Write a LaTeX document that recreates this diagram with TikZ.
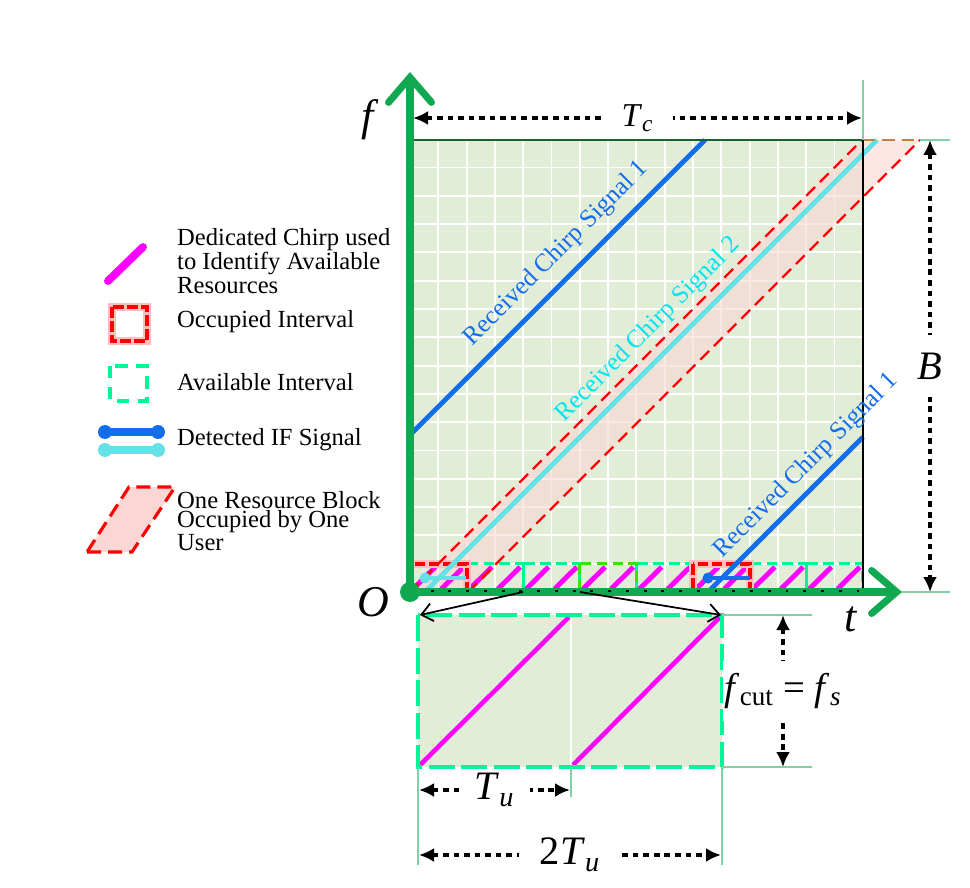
\documentclass[tikz,border=0pt]{standalone}
\usepackage{fontspec}
\setmainfont{Liberation Serif}
\usetikzlibrary{arrows.meta}

\definecolor{gridbg}{RGB}{226,237,216}
\definecolor{axisgreen}{RGB}{16,168,80}
\definecolor{mint}{RGB}{0,245,150}
\definecolor{limegreen}{RGB}{60,225,0}
\definecolor{chirpblue}{RGB}{20,110,235}
\definecolor{chirpcyan}{RGB}{100,225,230}
\definecolor{labelcyan}{RGB}{0,228,238}
\definecolor{extgreen}{RGB}{128,210,165}
\definecolor{topgreen}{RGB}{20,100,50}
\definecolor{blockpink}{RGB}{250,215,212}
\definecolor{chirpmag}{RGB}{255,0,255}

\tikzset{
  axisline/.style={axisgreen, line width=4pt,
    -{Straight Barb[length=5mm,width=8.6mm,line cap=round]}},
  dimline/.style={black, line width=1.8pt, dash pattern=on 3.2pt off 2.8pt,
    {Latex[length=3mm,width=2.8mm]}-{Latex[length=3mm,width=2.8mm]}},
  dimlabel/.style={fill=white, inner sep=1pt},
  extline/.style={extgreen, line width=1.3pt},
  chirp/.style={line width=2.8pt},
  occupied/.style={red, line width=1.8pt, dash pattern=on 6pt off 2pt},
  avail/.style={mint, line width=1.6pt, dash pattern=on 6pt off 3pt},
  legendtext/.style={font=\fontsize{14}{11}\selectfont, align=left, anchor=west},
  chirplabel/.style={font=\fontsize{14.5}{16}\selectfont, rotate=45},
  biglabel/.style={font=\fontsize{25}{28}\selectfont\itshape},
}

\begin{document}
\begin{tikzpicture}[x=0.02cm, y=-0.02cm, >=Latex]
\useasboundingbox (0,0) rectangle (970,888);

% time-frequency plane with grid
\fill[gridbg] (410,140) rectangle (863,592);
\foreach \k in {1,...,15} {
  \draw[white, line width=1.1pt] ({410+\k*28.3},140) -- ({410+\k*28.3},592);
  \draw[white, line width=1.1pt] (410,{592-\k*28.3}) -- (863,{592-\k*28.3});
}

% resource block occupied by one user
\fill[blockpink, fill opacity=0.6] (410,592) -- (468,592) -- (920,140) -- (862,140) -- cycle;

% dedicated chirps and intervals
\foreach \k in {0,...,15}
  \draw[chirpmag, line width=2.8pt] ({413+\k*28.3},589) -- ({407+(\k+1)*28.3},567);
\foreach \i in {0,...,7}
  \draw[avail] ({410+\i*56.6},563.7) rectangle ({410+(\i+1)*56.6},592);
\draw[avail, limegreen] (579.8,563.7) rectangle (636.4,592);
\foreach \x in {410,693} {
  \draw[red!25, line width=4pt] (\x,564) rectangle ++(57,28);
  \draw[occupied] (\x,564) rectangle ++(57,28);
}

% borders of the block
\draw[red, line width=1.3pt, dash pattern=on 7pt off 4pt] (410,592) -- (862,140);
\draw[red, line width=1.3pt, dash pattern=on 7pt off 4pt] (468,592) -- (920,140);

% received chirps
\draw[chirp, chirpcyan] (425,592) -- (877,140);
\draw[chirp, chirpblue] (410,435) -- (705,140);
\draw[chirp, chirpblue] (708,592) -- (863,437);

% detected IF signals
\draw[chirp, chirpcyan] (425,578) -- (466,578);
\fill[chirpcyan] (425,578) circle (0.11cm);
\draw[chirp, chirpblue] (708,578) -- (750,578);
\fill[chirpblue] (708,578) circle (0.11cm);

% frame
\draw[topgreen, line width=1.5pt] (410,140) -- (863,140);
\draw[brown, line width=1.5pt, dash pattern=on 7pt off 4pt] (863,140) -- (920,140);
\draw[black, line width=1.1pt] (863,140) -- (863,592);
\draw[extline] (920,140) -- (950,140);
\draw[extline] (863,140) -- (863,80);
\draw[extline] (900,592) -- (950,592);

% axes
\draw[axisline] (410,592) -- (410,72);
\draw[axisline] (410,592) -- (902,592);
\draw[black, line width=1.6pt, dash pattern=on 1.6pt off 8.5pt] (413,591) -- (863,591);
\fill[axisgreen] (410,592) circle (0.2cm);

\node[biglabel] (fLabel) at (368,120) {f};
\node[biglabel] (oLabel) at (373,602) {O};
\node[biglabel] (tLabel) at (851,619) {t};

\node[chirplabel, chirpblue] (sigA) at (556,254) {Received Chirp Signal 1};
\node[chirplabel, labelcyan] (sigB) at (648,330) {Received Chirp Signal 2};
\node[chirplabel, chirpblue] (sigC) at (806,466) {Received Chirp Signal 1};

% dimensions of the plane
\coordinate (tcL) at (413,118);
\coordinate (tcR) at (862,118);
\draw[dimline] (tcL) -- node[dimlabel, inner xsep=11pt, font=\fontsize{19}{20}\selectfont]
  (tcLabel) {\textit{T}\textsubscript{\textit{c}}} (tcR);
\coordinate (bTop) at (930,140);
\coordinate (bBot) at (930,592);
\draw[dimline] (bTop) -- node[dimlabel, inner ysep=10pt, font=\fontsize{23}{24}\selectfont\itshape]
  (bLabel) {B} (bBot);

% zoomed interval
\fill[gridbg] (418,615) rectangle (722,767);
\draw[white, line width=1.5pt] (571,618) -- (571,765);
\draw[chirpmag, line width=2.6pt] (420,765) -- (569,617);
\draw[chirpmag, line width=2.6pt] (573,765) -- (720,617);
\draw[mint, line width=2.8pt, dash pattern=on 15pt off 3.5pt] (418,615) rectangle (722,767);
\coordinate (zoomL) at (420,615);
\coordinate (zoomR) at (721,615);
\draw[black, line width=1pt, -{Straight Barb[length=2.2mm,width=3.6mm]}] (523,592) -- (zoomL);
\draw[black, line width=1pt, -{Straight Barb[length=2.2mm,width=3.6mm]}] (580,592) -- (zoomR);

\draw[extline] (722,615) -- (812,615);
\draw[extline] (722,767) -- (812,767);
\draw[extline] (418,767) -- (418,865);
\draw[extline] (571,767) -- (571,797);
\draw[extline] (722,767) -- (722,865);

\coordinate (fcTop) at (783,615);
\coordinate (fcBot) at (783,767);
\draw[dimline] (fcTop) -- node[dimlabel, inner ysep=7pt, font=\fontsize{22}{24}\selectfont]
  (fcLabel) {\textit{f}\textsubscript{cut} = \textit{f}\textsubscript{\textit{s}}} (fcBot);
\coordinate (tuL) at (419,790);
\coordinate (tuR) at (570,790);
\draw[dimline] (tuL) -- node[dimlabel, inner xsep=9pt, font=\fontsize{23}{24}\selectfont]
  (tuLabel) {\textit{T}\textsubscript{\textit{u}}} (tuR);
\coordinate (tuuL) at (419,855);
\coordinate (tuuR) at (721,855);
\draw[dimline] (tuuL) -- node[dimlabel, inner xsep=12pt, font=\fontsize{23}{24}\selectfont]
  (tuuLabel) {2\textit{T}\textsubscript{\textit{u}}} (tuuR);

% legend
\draw[chirpmag, line width=4.5pt, line cap=round] (108,281) -- (143,247);
\node[legendtext] (lgChirp) at (171,261) {Dedicated Chirp used\\to Identify Available\\Resources};
\draw[red!25, line width=4pt] (112,307) rectangle (147,341);
\draw[occupied, line width=2pt] (112,307) rectangle (147,341);
\node[legendtext] (lgOcc) at (171,322) {Occupied Interval};
\draw[mint, line width=2.6pt, dash pattern=on 7pt off 5pt] (110,366) rectangle (147,401);
\node[legendtext] (lgAvail) at (171,382) {Available Interval};
\draw[chirpblue, line width=5pt] (105,432) -- (158,432);
\fill[chirpblue] (105,432) circle (0.14cm) (158,432) circle (0.14cm);
\draw[chirpcyan, line width=5pt] (105,450) -- (158,450);
\fill[chirpcyan] (105,450) circle (0.14cm) (158,450) circle (0.14cm);
\node[legendtext] (lgIF) at (171,440) {Detected IF Signal};
\draw[red, line width=1.8pt, dash pattern=on 8pt off 4pt, fill=blockpink]
  (87,552) -- (132,552) -- (175,487) -- (129,487) -- cycle;
\node[legendtext] (lgBlock) at (171,521) {One Resource Block\\Occupied by One\\User};
\end{tikzpicture}
\end{document}
